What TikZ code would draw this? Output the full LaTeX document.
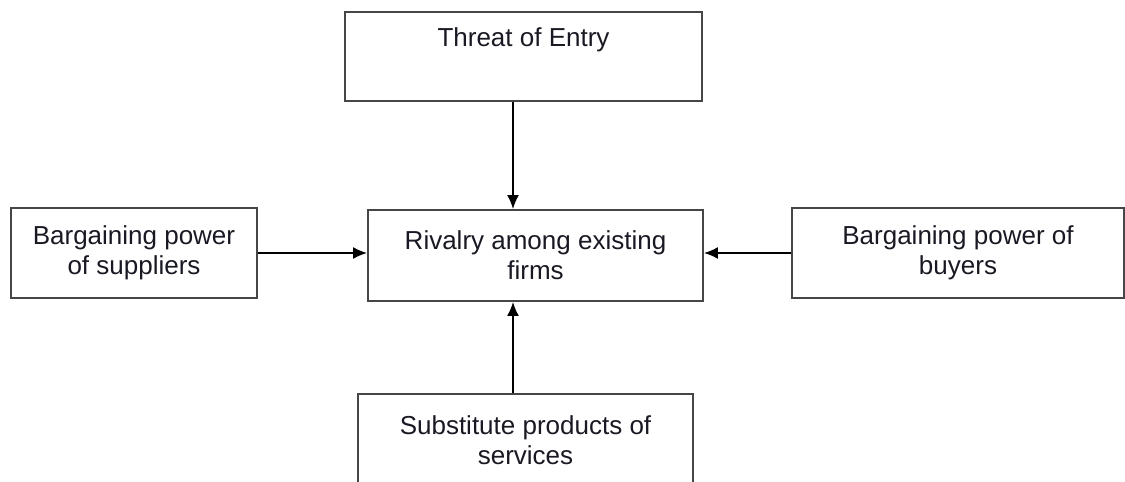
\documentclass[tikz,border=0pt]{standalone}
\usepackage{fontspec}
\setmainfont{Liberation Sans}
\usetikzlibrary{arrows.meta}
\definecolor{boxLine}{RGB}{70, 70, 70}
\definecolor{darkText}{RGB}{25, 25, 35}

\begin{document}
\begin{tikzpicture}[x=0.75pt, y=-0.75pt, >={Latex[length=10.5pt,width=9pt]}]

  % Page frame (pixel grid of the original, y pointing down)
  \useasboundingbox (0,0) rectangle (1125,482);
  \clip (0,0) rectangle (1125,482);

  % Helper styles for the boxes and the arrows
  \tikzset{
    force/.style={
      draw=boxLine,
      line width=1.4pt,
      text=darkText,
      align=center,
      font=\fontsize{19.5}{22.5}\selectfont,
      inner sep=0pt
    },
    arr/.style={->, line width=1.3pt, black}
  }

  % --- The five forces ---

  % Top: threat of entry (text sits near the top of the box)
  \node[force, minimum width=357*0.75pt, text height=22.5pt, text depth=36.75pt,
        inner ysep=3.75pt, anchor=north] (entry) at (523.5,11) {Threat of Entry};

  % Centre: rivalry
  \node[force, minimum width=335*0.75pt, minimum height=91*0.75pt]
    (rivalry) at (535.5,255.5) {Rivalry among existing\\firms};

  % Left: suppliers
  \node[force, minimum width=246*0.75pt, minimum height=90*0.75pt]
    (suppl) at (134,253) {Bargaining power\\of suppliers};

  % Right: buyers
  \node[force, minimum width=332*0.75pt, minimum height=90*0.75pt]
    (buyers) at (958,253) {Bargaining power of\\buyers};

  % Bottom: substitutes (runs off the lower edge)
  \node[force, minimum width=335*0.75pt, minimum height=92*0.75pt, anchor=north]
    (subst) at (525.5,393) {Substitute products of\\services};

  % --- Arrows into the centre ---
  \draw[arr] ([xshift=-10.5*0.75pt]entry.south)
    -- ([xshift=-10.5*0.75pt]entry.south |- rivalry.north);
  \draw[arr] ([xshift=-12.5*0.75pt]subst.north)
    -- ([xshift=-12.5*0.75pt]subst.north |- rivalry.south);
  \draw[arr] (suppl.east) -- (suppl.east -| rivalry.west);
  \draw[arr] (buyers.west) -- (buyers.west -| rivalry.east);

\end{tikzpicture}
\end{document}
